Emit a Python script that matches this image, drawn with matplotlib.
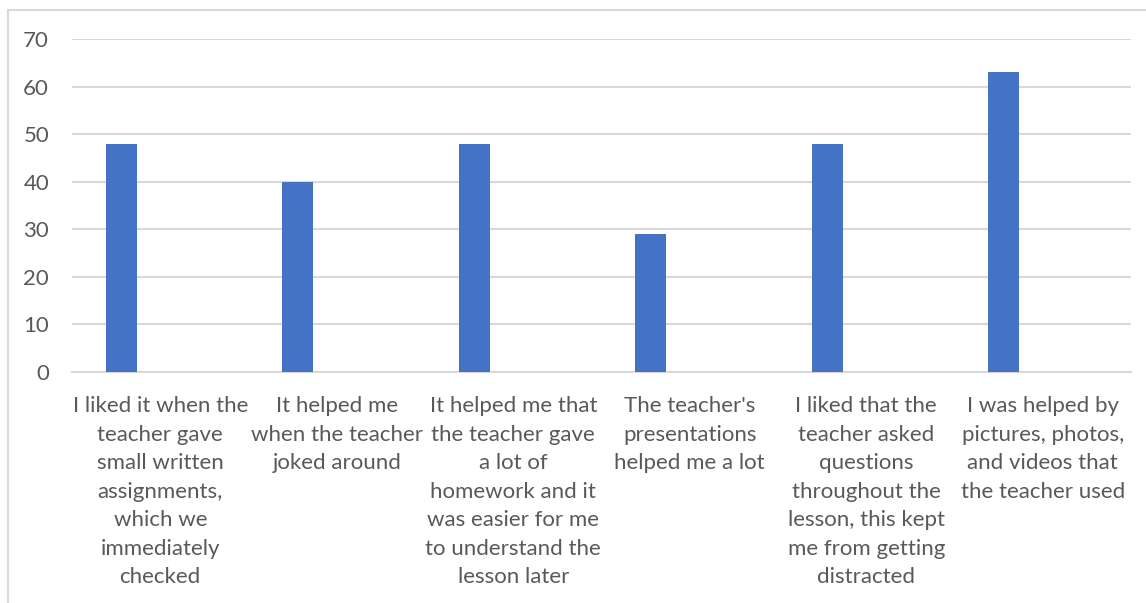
import matplotlib
matplotlib.use("Agg")
import numpy as np
import matplotlib.pyplot as plt
from matplotlib.patches import Rectangle

categories = [
    "I liked it when the\nteacher gave\nsmall written\nassignments,\nwhich we\nimmediately\nchecked",
    "It helped me\nwhen the teacher\njoked around",
    "It helped me that\nthe teacher gave\na lot of\nhomework and it\nwas easier for me\nto understand the\nlesson later",
    "The teacher's\npresentations\nhelped me a lot",
    "I liked that the\nteacher asked\nquestions\nthroughout the\nlesson, this kept\nme from getting\ndistracted",
    "I was helped by\npictures, photos,\nand videos that\nthe teacher used",
]
values = [48, 40, 48, 29, 48, 63]
yticks = [0, 10, 20, 30, 40, 50, 60, 70]

plt.rcParams['font.family'] = ['Lato', 'DejaVu Sans']
text_col = '#595959'
grid_col = '#D9D9D9'

fig = plt.figure(figsize=(11.46, 6.03), dpi=100)
ax = fig.add_axes([72 / 1146, 1 - 372 / 603, (1131 - 72) / 1146, (372 - 39) / 603])

x = np.arange(len(values))
ax.bar(x - 0.22, values, width=0.175, color='#4472C4', zorder=3)

ax.set_xlim(-0.5, len(values) - 0.5)
ax.set_ylim(0, 70)
ax.set_yticks(yticks)
ax.set_yticklabels([str(v) for v in yticks], fontsize=16, color=text_col)
ax.set_xticks(x)
ax.set_xticklabels(categories, fontsize=16, color=text_col, linespacing=1.53,
                   ha='center', va='top')
ax.tick_params(axis='both', length=0)
ax.tick_params(axis='x', pad=17.5)
ax.tick_params(axis='y', pad=16.5)

ax.grid(axis='y', color=grid_col, linewidth=1.5, zorder=0)
for s in ['top', 'right', 'left']:
    ax.spines[s].set_visible(False)
ax.spines['bottom'].set_color(grid_col)
ax.spines['bottom'].set_linewidth(1.5)

# outer chart border (cut off at right and bottom)
fig.patches.append(Rectangle((8 / 1146, -0.1), 1.2, 1 - 10 / 603 + 0.1,
                             transform=fig.transFigure, fill=False,
                             edgecolor=grid_col, linewidth=1.5))

fig.savefig('out.png', dpi=100)
